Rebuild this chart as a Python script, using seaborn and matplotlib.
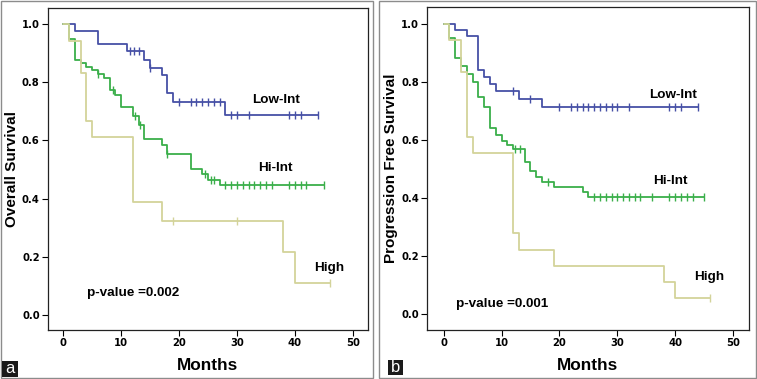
import numpy as np
import pandas as pd
import matplotlib
matplotlib.use("Agg")
import matplotlib.pyplot as plt
import seaborn as sns
from matplotlib.patches import Rectangle

sns.set_style("white")
plt.rcParams['font.family'] = ['Liberation Sans', 'DejaVu Sans']
plt.rcParams['text.color'] = 'black'
plt.rcParams['axes.labelcolor'] = 'black'

# --- panel a : overall survival (step times, survival after step, censor times)
a_low_t = [0, 2, 6, 11, 14, 15, 17, 18, 19, 28]
a_low_s = [1.0, 0.977, 0.931, 0.908, 0.877, 0.851, 0.826, 0.763, 0.734, 0.686]
a_low_c = [11.5, 12.2, 13, 15, 20, 22, 23, 24, 25, 26, 27, 29, 30, 32, 39, 40, 41, 44]

a_hi_t = [0, 1, 2, 3, 4, 5, 6, 7, 8, 9, 10, 12, 13, 14, 17, 18, 22, 24, 25, 27]
a_hi_s = [1.0, 0.95, 0.878, 0.866, 0.854, 0.842, 0.83, 0.815, 0.775, 0.758, 0.714,
          0.683, 0.652, 0.605, 0.583, 0.555, 0.502, 0.483, 0.465, 0.447]
a_hi_c = [6, 8.5, 12.3, 13.3, 18, 24.5, 25.5, 26, 28, 29, 30, 31, 32, 33, 34, 35, 36,
          39, 40, 41, 42, 45]

a_high_t = [0, 1, 3, 4, 5, 12, 17, 38, 40]
a_high_s = [1.0, 0.944, 0.833, 0.667, 0.611, 0.389, 0.324, 0.216, 0.108]
a_high_c = [19, 30, 46]

# --- panel b : progression free survival
b_low_t = [0, 2, 4, 6, 7, 8, 9, 13, 17]
b_low_s = [1.0, 0.978, 0.958, 0.84, 0.815, 0.792, 0.768, 0.741, 0.712]
b_low_c = [12, 15, 20, 22, 23, 24, 25, 26, 27, 28, 29, 30, 32, 39, 40, 41, 44]

b_hi_t = [0, 1, 2, 3, 4, 5, 6, 7, 8, 9, 10, 11, 12, 14, 15, 16, 17, 19, 24, 25]
b_hi_s = [1.0, 0.95, 0.882, 0.853, 0.827, 0.8, 0.747, 0.714, 0.64, 0.617, 0.596,
          0.582, 0.567, 0.522, 0.494, 0.471, 0.456, 0.436, 0.421, 0.404]
b_hi_c = [12.3, 13.1, 18, 26, 27, 28, 29, 30, 31, 32, 33, 34, 36, 39, 40, 41, 42, 43, 45]

b_high_t = [0, 1, 3, 4, 5, 12, 13, 19, 38, 40]
b_high_s = [1.0, 0.944, 0.833, 0.611, 0.556, 0.278, 0.222, 0.167, 0.111, 0.056]
b_high_c = [46]

groups = ["Low-Int", "Hi-Int", "High"]
colors = {"Low-Int": "#4650a6", "Hi-Int": "#3aaf4a", "High": "#d3d39a"}


def frames(curves):
    lines, marks = [], []
    for name, t, s, c in curves:
        end = max(max(c), t[-1])
        xs = list(t) + [end]
        ys = list(s) + [s[-1]]
        lines.append(pd.DataFrame({"month": xs, "surv": ys, "group": name}))
        idx = np.searchsorted(t, c, side="right") - 1
        marks.append(pd.DataFrame({"month": c, "surv": np.array(s)[idx], "group": name}))
    return pd.concat(lines, ignore_index=True), pd.concat(marks, ignore_index=True)


fig = plt.figure(figsize=(7.57, 3.79), dpi=100)
ax_a = fig.add_axes([48 / 757, 49 / 379, 320 / 757, 322 / 379])
ax_b = fig.add_axes([427.3 / 757, 49 / 379, 321.4 / 757, 323 / 379])

panels = [
    (ax_a, [("Low-Int", a_low_t, a_low_s, a_low_c), ("Hi-Int", a_hi_t, a_hi_s, a_hi_c),
            ("High", a_high_t, a_high_s, a_high_c)],
     "Overall Survival", (-2.65, 52.65), (-0.0527, 1.056),
     [(36.7, 0.74, "Low-Int"), (36.7, 0.506, "Hi-Int"), (45.9, 0.162, "High")],
     (4.15, 0.076, "p-value =0.002")),
    (ax_b, [("Low-Int", b_low_t, b_low_s, b_low_c), ("Hi-Int", b_hi_t, b_hi_s, b_hi_c),
            ("High", b_high_t, b_high_s, b_high_c)],
     "Progression Free Survival", (-2.83, 52.7), (-0.055, 1.057),
     [(39.6, 0.754, "Low-Int"), (39.1, 0.459, "Hi-Int"), (45.8, 0.126, "High")],
     (2.18, 0.034, "p-value =0.001")),
]

for ax, curves, ylab, xl, yl, labels, ptxt in panels:
    ldf, cdf = frames(curves)
    for g in groups:
        sns.lineplot(data=ldf[ldf.group == g], x="month", y="surv", color=colors[g],
                     estimator=None, sort=False, drawstyle="steps-post",
                     linewidth=1.3, legend=False, ax=ax)
        sns.scatterplot(data=cdf[cdf.group == g], x="month", y="surv", color=colors[g],
                        marker="|", s=30, linewidth=1.0, legend=False, ax=ax)
    ax.set_xlim(*xl)
    ax.set_ylim(*yl)
    ax.set_xticks([0, 10, 20, 30, 40, 50])
    ax.set_yticks([0.0, 0.2, 0.4, 0.6, 0.8, 1.0])
    ax.set_yticklabels(["0.0", "0.2", "0.4", "0.6", "0.8", "1.0"])
    ax.tick_params(direction="out", length=4, width=0.8, pad=2, colors="black",
                   left=True, bottom=True)
    for lab in ax.get_xticklabels() + ax.get_yticklabels():
        lab.set_fontfamily("DejaVu Sans")
        lab.set_fontweight("bold")
        lab.set_fontsize(7.2)
    for sp in ax.spines.values():
        sp.set_color("#222222")
        sp.set_linewidth(0.9)
    ax.set_ylabel(ylab, fontsize=11, fontweight="bold")
    ax.set_xlabel("Months", fontsize=12.4, fontweight="bold")
    ax.yaxis.set_label_coords(-0.113, 0.5)
    ax.xaxis.set_label_coords(0.5, -0.111)
    ax.xaxis.label.set_va("center")
    ax.yaxis.label.set_va("center")
    for x, y, t in labels:
        ax.text(x, y, t, ha="center", va="center", fontsize=9.7, fontweight="bold")
    ax.text(ptxt[0], ptxt[1], ptxt[2], ha="left", va="center", fontsize=9.7,
            fontweight="bold")

# panel borders and letter boxes
fig.add_artist(Rectangle((0.5 / 757, 1.5 / 379), 372.5 / 757, 376.5 / 379,
                         transform=fig.transFigure, fill=False, ec="#8c8c8c", lw=1))
fig.add_artist(Rectangle((378.5 / 757, 1.5 / 379), 377.5 / 757, 376.5 / 379,
                         transform=fig.transFigure, fill=False, ec="#8c8c8c", lw=1))
fig.add_artist(Rectangle((1.7 / 757, 2 / 379), 16.6 / 757, 16.5 / 379,
                         transform=fig.transFigure, fc="#1a1a1a", ec="none"))
fig.add_artist(Rectangle((387.7 / 757, 4 / 379), 15.6 / 757, 15 / 379,
                         transform=fig.transFigure, fc="#1a1a1a", ec="none"))
fig.text(10 / 757, 10.5 / 379, "a", color="white", ha="center", va="center", fontsize=12)
fig.text(395.5 / 757, 11.5 / 379, "b", color="white", ha="center", va="center", fontsize=12)

fig.savefig("out.png", dpi=100)
